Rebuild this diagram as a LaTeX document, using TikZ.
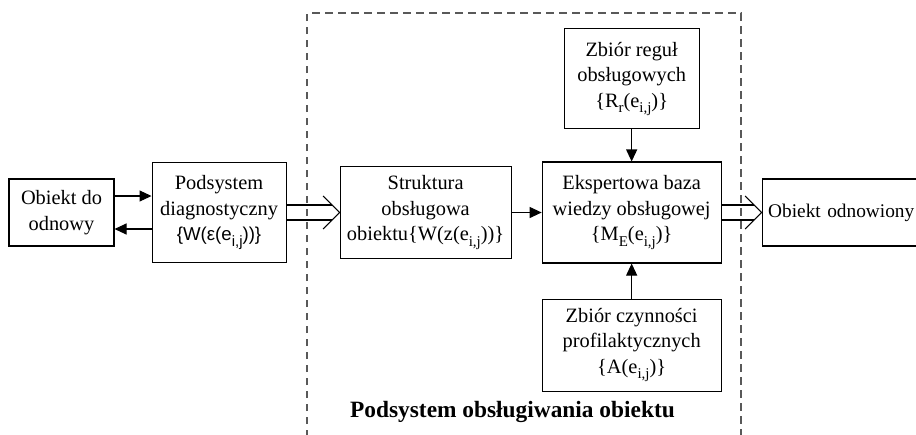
\documentclass[tikz,border=0pt]{standalone}
\usepackage{fontspec}
\setmainfont{Liberation Serif}
\newfontfamily\arialfont{Liberation Sans}
\usetikzlibrary{positioning, arrows.meta}
\newcommand{\indx}[1]{\raisebox{-0.55ex}{\fontsize{8.5}{8.5}\selectfont #1}}
\tikzstyle{block} = [rectangle, draw=black, line width=0.6pt, align=center, inner sep=1pt, font=\fontsize{11.6}{14.5}\selectfont]
\tikzstyle{arrow} = [line width=0.6pt, -{Triangle[length=2.4mm, width=2.2mm]}]
\tikzstyle{wide} = [line width=0.6pt]
\tikzstyle{frame} = [draw=black!65, line width=0.7pt, dash pattern=on 1.5mm off 1.1mm]

\begin{document}
\begin{tikzpicture}
\useasboundingbox (0,0) rectangle (18.32,-8.68);
% boxes
\node (obiekt) [block, minimum width=2.1cm, minimum height=1.34cm] at (1.23,-4.25) {Obiekt do\\odnowy};
\node (diag) [block, minimum width=2.68cm, minimum height=2cm, right=0.74cm of obiekt] {Podsystem\\diagnostyczny\\{\arialfont\fontsize{10.6}{14.5}\selectfont\{W(ε(e\indx{i,j}))\}}};
\node (struktura) [block, minimum width=3.42cm, minimum height=1.84cm, right=1.06cm of diag] {Struktura\\obsługowa\\obiektu\{W(z(e\indx{i,j}))\}};
\node (ekspert) [block, minimum width=3.58cm, minimum height=2.02cm, right=0.6cm of struktura] {Ekspertowa baza\\wiedzy obsługowej\\\{M\indx{E}(e\indx{i,j})\}};
\node (reguly) [block, minimum width=2.7cm, minimum height=2cm, above=0.64cm of ekspert] {Zbiór reguł\\obsługowych\\\{R\indx{r}(e\indx{i,j})\}};
\node (czynnosci) [block, minimum width=3.58cm, minimum height=1.84cm, below=0.7cm of ekspert] {Zbiór czynności\\profilaktycznych\\\{A(e\indx{i,j})\}};
\node (odnowiony) [block, font=\fontsize{11}{14}\selectfont, align=left, text width=3.4cm, inner xsep=0.12cm, minimum height=1.34cm, right=0.8cm of ekspert] {Obiekt odnowiony};
% subsystem frame
\draw [frame] (6.14,-9) |- (14.82,-0.26) -- (14.82,-9);
\node (tytul) [font=\bfseries\fontsize{13.3}{16}\selectfont] at (10.25,-8.24) {Podsystem obsługiwania obiektu};
% arrows
\draw [arrow] ([yshift=3.3mm]obiekt.east) -- ([yshift=3.3mm]diag.west);
\draw [arrow] ([yshift=-3.3mm]diag.west) -- ([yshift=-3.3mm]obiekt.east);
\draw [arrow] (struktura) -- (ekspert);
\draw [arrow] (reguly) -- (ekspert);
\draw [arrow] (czynnosci) -- (ekspert);
% double arrows
\draw [wide] ([yshift=1.5mm]diag.east) -- ([xshift=-1.5mm,yshift=1.5mm]struktura.west);
\draw [wide] ([yshift=-1.5mm]diag.east) -- ([xshift=-1.5mm,yshift=-1.5mm]struktura.west);
\draw [wide] ([xshift=-3.3mm,yshift=3.3mm]struktura.west) -- (struktura.west) -- ([xshift=-3.3mm,yshift=-3.3mm]struktura.west);
\draw [wide] ([yshift=1.5mm]ekspert.east) -- ([xshift=-1.5mm,yshift=1.5mm]odnowiony.west);
\draw [wide] ([yshift=-1.5mm]ekspert.east) -- ([xshift=-1.5mm,yshift=-1.5mm]odnowiony.west);
\draw [wide] ([xshift=-3.3mm,yshift=3.3mm]odnowiony.west) -- (odnowiony.west) -- ([xshift=-3.3mm,yshift=-3.3mm]odnowiony.west);
\end{tikzpicture}
\end{document}
